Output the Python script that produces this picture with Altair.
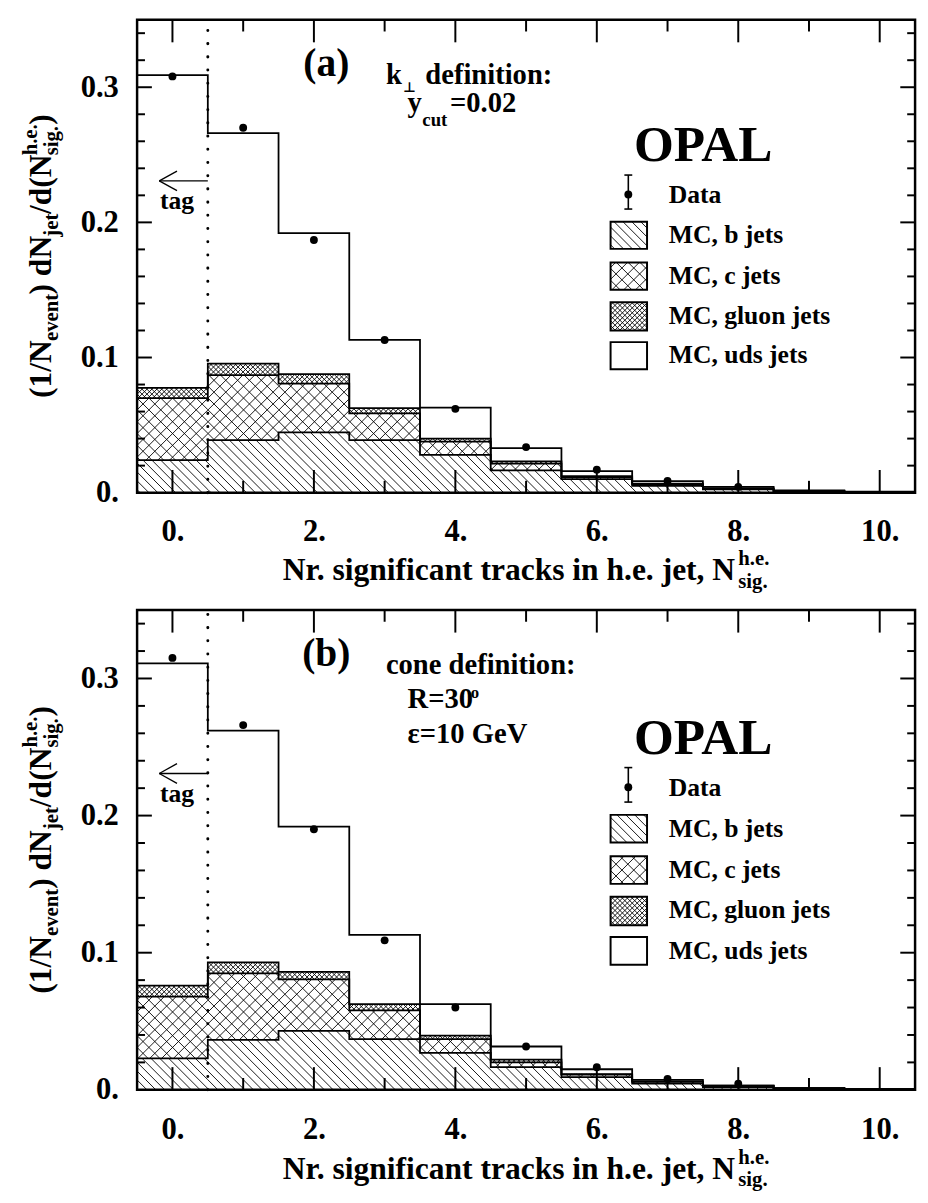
import math
import altair as alt
import pandas as pd

# ---------------- data ----------------
bin_centers = [0, 1, 2, 3, 4, 5, 6, 7, 8, 9, 10]
data_bins = [0, 1, 2, 3, 4, 5, 6, 7, 8]

# panel (a): k-perp definition
a_mc_b = [0.0240, 0.0388, 0.0446, 0.0388, 0.0280, 0.0165, 0.0100, 0.0050, 0.0025, 0.0010, 0.0004]
a_mc_c = [0.0460, 0.0482, 0.0360, 0.0198, 0.0098, 0.0050, 0.0015, 0.0012, 0.0005, 0.0002, 0.0001]
a_mc_g = [0.0076, 0.0085, 0.0071, 0.0040, 0.0022, 0.0017, 0.0007, 0.0004, 0.0002, 0.0001, 0.0000]
a_mc_uds = [0.2314, 0.1705, 0.1043, 0.0504, 0.0230, 0.0098, 0.0038, 0.0020, 0.0011, 0.0003, 0.0002]
a_data = [0.308, 0.270, 0.187, 0.113, 0.062, 0.0337, 0.0170, 0.0087, 0.0043]

# panel (b): cone definition
b_mc_b = [0.0230, 0.0365, 0.0430, 0.0370, 0.0270, 0.0166, 0.0093, 0.0045, 0.0020, 0.0008, 0.0003]
b_mc_c = [0.0450, 0.0485, 0.0375, 0.0210, 0.0100, 0.0034, 0.0017, 0.0013, 0.0008, 0.0003, 0.0001]
b_mc_g = [0.0080, 0.0080, 0.0055, 0.0045, 0.0025, 0.0020, 0.0005, 0.0004, 0.0002, 0.0001, 0.0001]
b_mc_uds = [0.2350, 0.1690, 0.1060, 0.0505, 0.0230, 0.0096, 0.0035, 0.0010, 0.0000, 0.0001, 0.0000]
b_data = [0.315, 0.266, 0.190, 0.109, 0.060, 0.0316, 0.0165, 0.0079, 0.0045]

x_range = [-0.5, 10.5]
y_range = [0.0, 0.35]
x_major_ticks = [0, 2, 4, 6, 8, 10]
x_minor_ticks = [1, 3, 5, 7, 9]
y_label_values = [0.0, 0.1, 0.2, 0.3]
y_major_ticks = [0.1, 0.2, 0.3]
y_minor_ticks = [0.02, 0.04, 0.06, 0.08, 0.12, 0.14, 0.16, 0.18,
                 0.22, 0.24, 0.26, 0.28, 0.32, 0.34]
tag_cut = 0.5
legend_labels = ["Data", "MC, b jets", "MC, c jets", "MC, gluon jets", "MC, uds jets"]
x_title_main = "Nr. significant tracks in h.e. jet, N"
sup_he = "h.e."
sub_sig = "sig."

# ---------------- layout / style ----------------
SERIF = "Liberation Serif"
PW = 789.5          # plot width (px)
REF_H = 487.0       # reference plot height used for annotation placement
H_TOP = 480.0
H_BOT = 487.0
S_B, S_C, S_G = 9.0, 12.0, 5.0   # hatch spacings (px)
FS_TICK = 31
FS_T, FS_S = 32, 21
FS_LEG = 26
FS_DEF = 29

TB = {' ': 250, '(': 333, ')': 333, '/': 278, '.': 250, ',': 250, '=': 570, ':': 333,
      '0': 500, '1': 500, '2': 500, '3': 500, '4': 500, '5': 500, '6': 500, '7': 500,
      '8': 500, '9': 500, 'A': 722, 'C': 722, 'D': 722, 'G': 778, 'L': 667, 'M': 944,
      'N': 722, 'O': 778, 'P': 611, 'R': 722, 'V': 722, 'a': 500, 'b': 556, 'c': 444,
      'd': 556, 'e': 444, 'f': 333, 'g': 500, 'h': 556, 'i': 278, 'j': 333, 'k': 556,
      'l': 278, 'n': 556, 'o': 500, 'r': 444, 's': 389, 't': 333, 'u': 556, 'v': 500,
      'y': 500, 'ε': 440}


def tw(s, fs):
    return sum(TB.get(ch, 500) for ch in s) * fs / 1000.0


def rx2x(rx):
    return x_range[0] + rx * (x_range[1] - x_range[0]) / PW


def ry2v(ry):
    return y_range[1] * (1 - ry / REF_H)


def h_rich(segs, rx0, ry0):
    rows, rx = [], rx0
    for text, fs, dy, adv in segs:
        rows.append({'rx': rx, 'ry': ry0 + dy, 'text': text, 'fs': fs})
        rx += tw(text, fs) if adv is None else adv
    return rows


def v_rich(segs, rx0, ry0):
    rows, ry = [], ry0
    for text, fs, dx, adv in segs:
        rows.append({'rx': rx0 + dx, 'ry': ry, 'text': text, 'fs': fs})
        ry -= tw(text, fs) if adv is None else adv
    return rows


def rows_to_df(rows):
    return pd.DataFrame([{'x': rx2x(r['rx']), 'v': ry2v(r['ry']),
                          'text': r['text'], 'fs': r['fs']} for r in rows])


def hatch(x0, x1, y0, y1, s, dirs):
    segs = []
    for d in dirs:
        if d == 'back':      # "\"  y = x + c
            k0 = math.floor((y0 - x1) / s) - 1
            k1 = math.ceil((y1 - x0) / s) + 1
            for k in range(k0, k1 + 1):
                c = k * s
                lo, hi = max(x0, y0 - c), min(x1, y1 - c)
                if hi - lo > 0.3:
                    segs.append((lo, lo + c, hi, hi + c))
        else:                # "/"  y = -x + c
            k0 = math.floor((x0 + y0) / s) - 1
            k1 = math.ceil((x1 + y1) / s) + 1
            for k in range(k0, k1 + 1):
                c = k * s
                lo, hi = max(x0, c - y1), min(x1, c - y0)
                if hi - lo > 0.3:
                    segs.append((lo, c - lo, hi, c - hi))
    return segs


# title segments
w_sup = max(tw(sup_he, FS_S), tw(sub_sig, FS_S))
xt_segs = [(x_title_main, FS_T, 0, None), (sup_he, FS_S, -15, 0), (sub_sig, FS_S, 8, w_sup)]
xt_total = tw(x_title_main, FS_T) + w_sup
yt_segs = [("(1/N", FS_T, 0, None), ("event", FS_S, 7, None), (") dN", FS_T, 0, None),
           ("jet", FS_S, 7, None), ("/d(N", FS_T, 0, None), (sup_he, FS_S, -14, 0),
           (sub_sig, FS_S, 7, w_sup), (")", FS_T, 0, None)]
yt_total = sum((tw(t, f) if a is None else a) for t, f, d, a in yt_segs)

# legend geometry (reference px relative to the frame)
LEG_BOX_X = (480.5, 517.5)
LEG_BOX_Y = [(208, 236), (250, 278), (291, 320), (332, 360)]
LEG_TEXT_RX = 539.5
LEG_TEXT_RY = [189, 230, 272, 313, 354]
LEG_DATA = (498.5, 180, 160, 195)


def make_panel(comp, data_vals, H, left_texts, center_texts, small_sym, bound):
    XS = alt.Scale(domain=x_range, nice=False, zero=False)
    YS = alt.Scale(domain=y_range, nice=False, zero=False)
    AX = alt.Axis(values=x_major_ticks, labelExpr="datum.value + '.'", ticks=False,
                  domain=False, grid=False, title=None, labelFont=SERIF,
                  labelFontWeight='bold', labelFontSize=FS_TICK, labelColor='black',
                  labelPadding=25, labelFlush=False)
    AY = alt.Axis(values=y_label_values,
                  labelExpr="datum.value == 0 ? '0.' : format(datum.value, '.1f')",
                  ticks=False, domain=False, grid=False, title=None, labelFont=SERIF,
                  labelFontWeight='bold', labelFontSize=FS_TICK, labelColor='black',
                  labelPadding=19, labelFlush=False)

    def X(f='x'):
        return alt.X(f + ':Q', scale=XS, axis=AX)

    def Y(f='v'):
        return alt.Y(f + ':Q', scale=YS, axis=AY)

    def px(x):
        return (x - x_range[0]) * PW / (x_range[1] - x_range[0])

    def py(v):
        return H * (1 - v / y_range[1])

    def xd(p):
        return x_range[0] + p * (x_range[1] - x_range[0]) / PW

    def vd(q):
        return y_range[1] * (1 - q / H)

    b, c, g, u = comp
    cum1 = [b[i] for i in range(11)]
    cum2 = [cum1[i] + c[i] for i in range(11)]
    cum3 = [cum2[i] + g[i] for i in range(11)]
    cum4 = [cum3[i] + u[i] for i in range(11)]

    # hatch segments (histogram regions + legend boxes)
    segs = []
    for i, xc in enumerate(bin_centers):
        x0, x1 = px(xc - 0.5), px(xc + 0.5)
        segs += hatch(x0, x1, py(cum1[i]), py(0), S_B, ['back'])
        segs += hatch(x0, x1, py(cum2[i]), py(cum1[i]), S_C, ['back', 'fwd'])
        segs += hatch(x0, x1, py(cum3[i]), py(cum2[i]), S_G, ['back', 'fwd'])
    lx0, lx1 = px(rx2x(LEG_BOX_X[0])), px(rx2x(LEG_BOX_X[1]))
    for (ya, yb), (s, dirs) in zip(LEG_BOX_Y[:3], [(S_B, ['back']), (S_C, ['back', 'fwd']),
                                                   (S_G, ['back', 'fwd'])]):
        segs += hatch(lx0, lx1, py(ry2v(ya)), py(ry2v(yb)), s, dirs)
    hdf = pd.DataFrame([{'x': xd(a), 'v': vd(bb), 'x2': xd(cc), 'v2': vd(dd)}
                        for a, bb, cc, dd in segs])
    hatch_layer = alt.Chart(hdf).mark_rule(color='black', strokeWidth=0.9).encode(
        x=X(), x2='x2:Q', y=Y(), y2='v2:Q')

    # step outlines
    orows = []
    for name, cum in [('b', cum1), ('c', cum2), ('g', cum3), ('t', cum4)]:
        for i, xc in enumerate(bin_centers):
            orows.append({'s': name, 'o': 2 * i, 'x': xc - 0.5, 'v': cum[i]})
            orows.append({'s': name, 'o': 2 * i + 1, 'x': xc + 0.5, 'v': cum[i]})
    outline = alt.Chart(pd.DataFrame(orows)).mark_line(
        color='black', strokeWidth=1.8, interpolate='linear').encode(
        x=X(), y=Y(), detail='s:N', order='o:Q')

    # data points
    pts = alt.Chart(pd.DataFrame({'x': data_bins, 'v': data_vals})).mark_point(
        filled=True, shape='circle', size=64, color='black', opacity=1).encode(x=X(), y=Y())

    # dotted tag cut
    dotted = alt.Chart(pd.DataFrame({'x': [tag_cut], 'v': [y_range[0]], 'v2': [y_range[1]]})
                       ).mark_rule(color='black', strokeWidth=3, strokeDash=[0.1, 13.3],
                                   strokeCap='round').encode(x=X(), y=Y(), y2='v2:Q')

    # tag arrow
    tip_x = rx2x(22.5)
    av = ry2v(166)
    dxh = 18 * (x_range[1] - x_range[0]) / PW
    dvh = 10 * y_range[1] / REF_H
    arr = pd.DataFrame([
        {'x': tip_x, 'v': av, 'x2': tag_cut, 'v2': av},
        {'x': tip_x, 'v': av, 'x2': tip_x + dxh, 'v2': av + dvh},
        {'x': tip_x, 'v': av, 'x2': tip_x + dxh, 'v2': av - dvh},
    ])
    arrow = alt.Chart(arr).mark_rule(color='black', strokeWidth=1.3).encode(
        x=X(), x2='x2:Q', y=Y(), y2='v2:Q')

    # inward ticks
    def tick_layer(vals, horiz, a, b_):
        df = pd.DataFrame({'t': vals})
        if horiz:
            return alt.Chart(df).mark_rule(color='black', strokeWidth=2).encode(
                x=alt.X('t:Q', scale=XS, axis=AX), y=alt.value(a), y2=alt.value(b_))
        return alt.Chart(df).mark_rule(color='black', strokeWidth=2).encode(
            y=alt.Y('t:Q', scale=YS, axis=AY), x=alt.value(a), x2=alt.value(b_))

    ticks = [
        tick_layer(x_major_ticks, True, H, H - 23), tick_layer(x_minor_ticks, True, H, H - 12),
        tick_layer(x_major_ticks, True, 0, 23), tick_layer(x_minor_ticks, True, 0, 12),
        tick_layer(y_major_ticks, False, 0, 15), tick_layer(y_minor_ticks, False, 0, 8),
        tick_layer(y_major_ticks, False, PW, PW - 15), tick_layer(y_minor_ticks, False, PW, PW - 8),
    ]

    # legend
    boxes = pd.DataFrame([{'x': rx2x(LEG_BOX_X[0]), 'x2': rx2x(LEG_BOX_X[1]),
                           'v': ry2v(ya), 'v2': ry2v(yb)} for ya, yb in LEG_BOX_Y])
    box_layer = alt.Chart(boxes).mark_rect(fillOpacity=0, stroke='black', strokeWidth=2).encode(
        x=X(), x2='x2:Q', y=Y(), y2='v2:Q')
    drx, dry, e0, e1 = LEG_DATA
    capw = 4 * (x_range[1] - x_range[0]) / PW
    dx = rx2x(drx)
    err = pd.DataFrame([
        {'x': dx, 'x2': dx, 'v': ry2v(e0), 'v2': ry2v(e1)},
        {'x': dx - capw, 'x2': dx + capw, 'v': ry2v(e0), 'v2': ry2v(e0)},
        {'x': dx - capw, 'x2': dx + capw, 'v': ry2v(e1), 'v2': ry2v(e1)},
    ])
    err_layer = alt.Chart(err).mark_rule(color='black', strokeWidth=1.6).encode(
        x=X(), x2='x2:Q', y=Y(), y2='v2:Q')
    leg_pt = alt.Chart(pd.DataFrame({'x': [dx], 'v': [ry2v(dry)]})).mark_point(
        filled=True, shape='circle', size=64, color='black', opacity=1).encode(x=X(), y=Y())
    leg_rows = [{'rx': LEG_TEXT_RX, 'ry': ry, 'text': t, 'fs': FS_LEG}
                for t, ry in zip(legend_labels, LEG_TEXT_RY)]

    # texts
    lrows = leg_rows + [{'rx': rx, 'ry': ry, 'text': t, 'fs': fs} for t, fs, rx, ry in left_texts]
    lrows += h_rich(xt_segs, PW / 2 - xt_total / 2, 577)
    left_layer = alt.Chart(rows_to_df(lrows)).mark_text(
        align='left', baseline='alphabetic', font=SERIF, fontWeight='bold', color='black').encode(
        x=X(), y=Y(), text='text:N', size=alt.Size('fs:Q', scale=None))
    crows = [{'rx': rx, 'ry': ry, 'text': t, 'fs': fs} for t, fs, rx, ry in center_texts]
    center_layer = alt.Chart(rows_to_df(crows)).mark_text(
        align='center', baseline='alphabetic', font=SERIF, fontWeight='bold', color='black').encode(
        x=X(), y=Y(), text='text:N', size=alt.Size('fs:Q', scale=None))
    vrows = v_rich(yt_segs, -87.5, REF_H / 2 + yt_total / 2)
    rot_layer = alt.Chart(rows_to_df(vrows)).mark_text(
        align='left', baseline='alphabetic', angle=270, font=SERIF, fontWeight='bold',
        color='black').encode(x=X(), y=Y(), text='text:N', size=alt.Size('fs:Q', scale=None))

    layers = [hatch_layer, outline, dotted, arrow, pts] + ticks + [
        box_layer, err_layer, leg_pt, left_layer, center_layer, rot_layer]
    if small_sym:
        srows = [{'rx': rx, 'ry': ry, 'text': t, 'fs': fs} for t, fs, rx, ry in small_sym]
        layers.append(alt.Chart(rows_to_df(srows)).mark_text(
            align='left', baseline='alphabetic', font='DejaVu Sans', fontWeight='bold',
            color='black').encode(x=X(), y=Y(), text='text:N',
                                  size=alt.Size('fs:Q', scale=None)))
    if bound:
        layers.append(alt.Chart(pd.DataFrame({'k': [0]})).mark_rect(opacity=0).encode(
            x=alt.value(-129.5), x2=alt.value(-129), y=alt.value(-1.2), y2=alt.value(-0.8)))
    return alt.layer(*layers).properties(width=PW, height=H)


top_left = [("k", FS_DEF, 252.5, 66), ("definition:", FS_DEF, 292.5, 66),
            ("y", FS_DEF, 274.5, 95), ("cut", 19, 289.5, 109), ("=0.02", FS_DEF, 317.5, 95)]
top_center = [("(a)", 40, 192, 58), ("OPAL", 52, 574.5, 146), ("tag", 26, 40.5, 194.7)]
top_sym = [("\u22a5", 14, 270, 74)]

bot_left = [("cone definition:", FS_DEF, 252.5, 65), ("R=30", FS_DEF, 274.5, 100),
            ("o", 17, 338.5, 89), ("\u03b5=10 GeV", FS_DEF, 274.5, 135)]
bot_center = [("(b)", 40, 192, 57), ("OPAL", 52, 574.5, 146), ("tag", 26, 40.5, 194.7)]

top = make_panel((a_mc_b, a_mc_c, a_mc_g, a_mc_uds), a_data, H_TOP, top_left, top_center,
                 top_sym, True)
bot = make_panel((b_mc_b, b_mc_c, b_mc_g, b_mc_uds), b_data, H_BOT, bot_left, bot_center,
                 None, False)

chart = alt.vconcat(top, bot, spacing=119, bounds='flush', padding=0,
                    background='white').configure_view(stroke='black', strokeWidth=2.5)

chart.save("out.html", embed_options={"renderer": "svg", "actions": False})
